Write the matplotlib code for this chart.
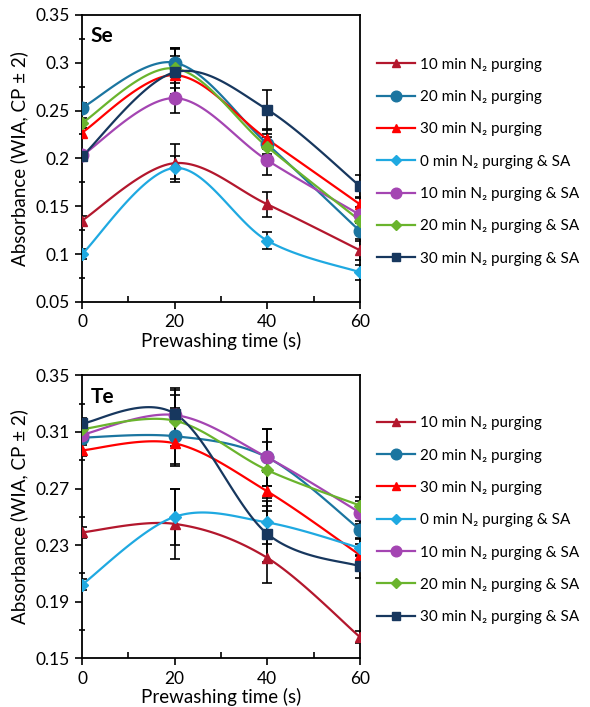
import numpy as np
import matplotlib
matplotlib.use("Agg")
import matplotlib.pyplot as plt
from matplotlib.ticker import MultipleLocator, FixedLocator, FuncFormatter

plt.rcParams['font.family'] = ['Lato', 'DejaVu Sans']

# prewashing time (s)
times = [0, 20, 40, 60]

labels = ["10 min N\u2082 purging", "20 min N\u2082 purging", "30 min N\u2082 purging",
          "0 min N\u2082 purging & SA", "10 min N\u2082 purging & SA",
          "20 min N\u2082 purging & SA", "30 min N\u2082 purging & SA"]
colors = ["#B3172D", "#1B75A0", "#FF0000", "#1FA9E1", "#A445B2", "#6AB42D", "#17375E"]
markers = ["^", "o", "^", "D", "o", "D", "s"]
msizes = [7, 9, 7, 6, 9, 6, 7]

# Se panel
se_vals = [
    [0.135, 0.195, 0.152, 0.104],
    [0.253, 0.300, 0.215, 0.124],
    [0.227, 0.287, 0.220, 0.152],
    [0.100, 0.190, 0.114, 0.081],
    [0.203, 0.263, 0.198, 0.141],
    [0.237, 0.294, 0.212, 0.135],
    [0.202, 0.290, 0.251, 0.171],
]
se_err = [
    [0.005, 0.020, 0.013, 0.010],
    [0.005, 0.015, 0.010, 0.008],
    [0.005, 0.020, 0.010, 0.008],
    [0.005, 0.012, 0.009, 0.008],
    [0.005, 0.016, 0.015, 0.008],
    [0.005, 0.020, 0.010, 0.008],
    [0.005, 0.025, 0.020, 0.012],
]
se_ticks = [0.05, 0.1, 0.15, 0.2, 0.25, 0.3, 0.35]

# Te panel
te_vals = [
    [0.239, 0.245, 0.221, 0.165],
    [0.306, 0.307, 0.292, 0.241],
    [0.297, 0.302, 0.268, 0.223],
    [0.202, 0.250, 0.246, 0.228],
    [0.308, 0.322, 0.292, 0.253],
    [0.312, 0.318, 0.283, 0.258],
    [0.316, 0.323, 0.238, 0.215],
]
te_err = [
    [0.004, 0.025, 0.018, 0.004],
    [0.004, 0.020, 0.020, 0.006],
    [0.004, 0.016, 0.014, 0.008],
    [0.004, 0.020, 0.015, 0.006],
    [0.004, 0.018, 0.020, 0.008],
    [0.004, 0.018, 0.020, 0.006],
    [0.004, 0.018, 0.020, 0.008],
]
te_ticks = [0.15, 0.19, 0.23, 0.27, 0.31, 0.35]


# Excel-like smoothed line (Catmull-Rom style bezier segments)
def smooth(x, y, n=40):
    pts = np.column_stack([np.asarray(x, float), np.asarray(y, float)])
    out = []
    for i in range(len(pts) - 1):
        p0 = pts[i - 1] if i > 0 else pts[i]
        p1 = pts[i]
        p2 = pts[i + 1]
        p3 = pts[i + 2] if i + 2 < len(pts) else pts[i + 1]
        c1 = p1 + (p2 - p0) / 6
        c2 = p2 - (p3 - p1) / 6
        t = np.linspace(0, 1, n)[:, None]
        seg = (1 - t) ** 3 * p1 + 3 * (1 - t) ** 2 * t * c1 + 3 * (1 - t) * t ** 2 * c2 + t ** 3 * p2
        out.append(seg if i == 0 else seg[1:])
    out = np.vstack(out)
    return out[:, 0], out[:, 1]


def draw_panel(ax, vals, errs, name, ticks):
    for v, e in zip(vals, errs):
        ax.errorbar(times, v, yerr=e, fmt='none', ecolor='black', elinewidth=1.2,
                    capsize=3.5, capthick=1.2, zorder=2)
    for v, lab, c, m, ms in zip(vals, labels, colors, markers, msizes):
        sx, sy = smooth(times, v)
        ax.plot(sx, sy, color=c, lw=1.6, zorder=3)
        ax.plot(times, v, linestyle='none', marker=m, ms=ms, color=c, zorder=4)
        ax.plot([], [], color=c, lw=1.6, marker=m, ms=ms * 0.85, label=lab)
    step = ticks[1] - ticks[0]
    ax.set_xlim(0, 60)
    ax.set_ylim(ticks[0], ticks[-1])
    ax.xaxis.set_major_locator(MultipleLocator(20))
    ax.xaxis.set_minor_locator(MultipleLocator(10))
    ax.yaxis.set_major_locator(FixedLocator(ticks))
    ax.yaxis.set_minor_locator(FixedLocator([t + step / 2 for t in ticks[:-1]]))
    ax.yaxis.set_major_formatter(FuncFormatter(lambda v, p: "%g" % round(v, 3)))
    ax.tick_params(axis='both', which='major', direction='out', length=5, width=1.2,
                   labelsize=12.5, colors='black', pad=4)
    ax.tick_params(axis='y', which='minor', direction='inout', length=5, width=1.2)
    ax.tick_params(axis='x', which='minor', direction='in', length=4, width=1.2)
    for s in ax.spines.values():
        s.set_linewidth(1.3)
    ax.set_xlabel("Prewashing time (s)", fontsize=13.5, labelpad=1)
    ax.set_ylabel("Absorbance (WIA, CP \u00b1 2)", fontsize=13.5, labelpad=5)
    ax.text(0.03, 0.96, name, transform=ax.transAxes, fontsize=15, fontweight='bold',
            va='top', ha='left')


fig = plt.figure(figsize=(5.9, 7.07), dpi=100)
ax1 = fig.add_axes([0.139, 0.573, 0.471, 0.406])
ax2 = fig.add_axes([0.139, 0.069, 0.471, 0.400])

draw_panel(ax1, se_vals, se_err, "Se", se_ticks)
draw_panel(ax2, te_vals, te_err, "Te", te_ticks)

for ax, top in [(ax1, 0.927), (ax2, 0.42)]:
    ax.legend(loc='upper left', bbox_to_anchor=(0.628, top), bbox_transform=fig.transFigure,
              frameon=False, fontsize=11, handlelength=2.5, labelspacing=1.2,
              handletextpad=0.35, borderaxespad=0)

fig.savefig("out.png", dpi=100)
